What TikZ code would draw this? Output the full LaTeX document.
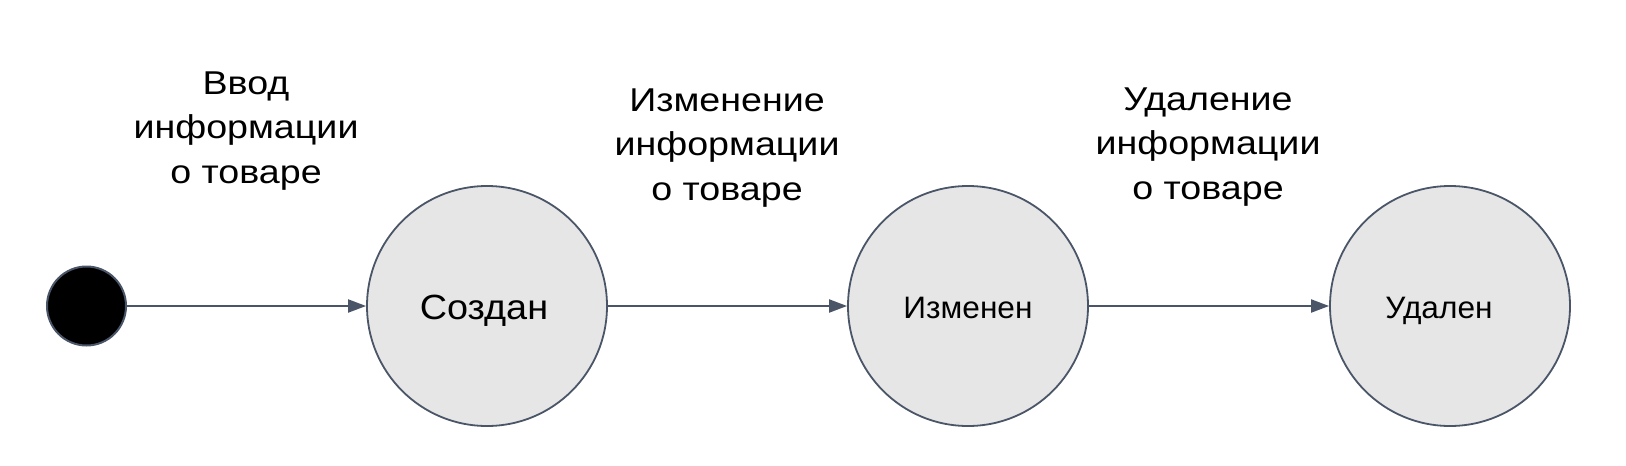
\documentclass[tikz,border=0pt]{standalone}
\usepackage{fontspec}
\setmainfont{Liberation Sans}
\newfontfamily\labfont[FakeStretch=1.14]{Liberation Sans}
\newfontfamily\bigfont[FakeStretch=1.08]{Liberation Sans}
\newfontfamily\midfont[FakeStretch=1.02]{Liberation Sans}
\usetikzlibrary{arrows.meta}
\definecolor{slate}{HTML}{4A5568}
\definecolor{statefill}{HTML}{E6E6E6}
\tikzset{
  startstate/.style={circle, draw=slate, line width=2pt, fill=black, minimum size=79pt, inner sep=0pt},
  statenode/.style={circle, draw=slate, line width=1.8pt, fill=statefill, minimum size=240pt, inner sep=0pt},
  trans/.style={draw=slate, line width=2pt, -{Triangle[length=18pt,width=13pt]}},
  lab/.style={align=center, font=\labfont\fontsize{33}{44.5}\selectfont, inner sep=0pt, anchor=base},
  statetext/.style={inner sep=0pt, anchor=base},
}
\begin{document}
\begin{tikzpicture}[x=1pt,y=-1pt]
\useasboundingbox (0,0) rectangle (1626,466);
\node[startstate] (s0) at (86.5,306) {};
\node[statenode] (s1) at (487,306) {};
\node[statenode] (s2) at (968,306) {};
\node[statenode] (s3) at (1450,306) {};
\node[statetext, font=\bigfont\fontsize{35}{40}\selectfont] (t1) at (484,319.5) {Создан};
\node[statetext, font=\midfont\fontsize{31}{36}\selectfont] (t2) at (968,318) {Изменен};
\node[statetext, font=\midfont\fontsize{31}{36}\selectfont] (t3) at (1439,318) {Удален};
\draw[trans] (s0) -- (s1);
\draw[trans] (s1) -- (s2);
\draw[trans] (s2) -- (s3);
\node[lab] (l1) at (246,183) {Ввод\\информации\\о товаре};
\node[lab] (l2) at (727,200) {Изменение\\информации\\о товаре};
\node[lab] (l3) at (1208,199) {Удаление\\информации\\о товаре};
\end{tikzpicture}
\end{document}
